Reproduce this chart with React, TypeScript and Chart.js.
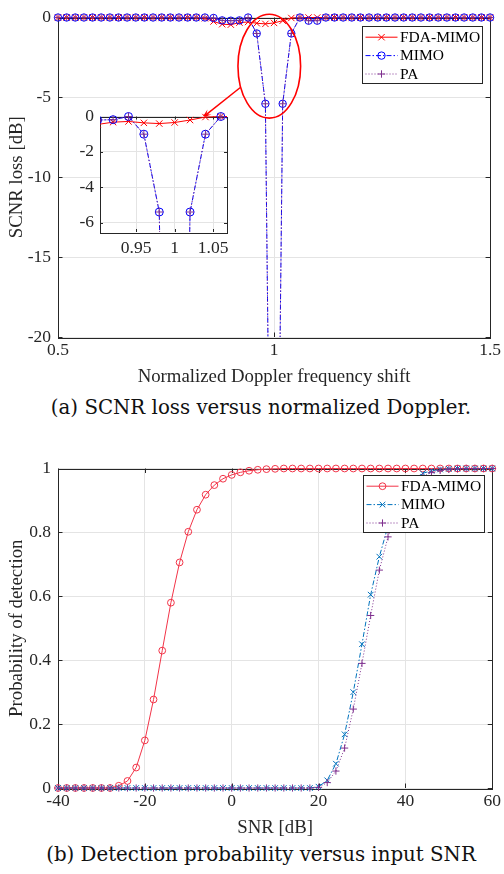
import React, { useEffect, useRef } from 'react';
import { Chart, registerables } from 'chart.js';
Chart.register(...registerables);

// ---------- Data: (a) SCNR loss vs normalized Doppler ----------
const dopplerShift = [
  0.5, 0.52, 0.54, 0.56, 0.58, 0.6, 0.62, 0.64, 0.66, 0.68,
  0.7, 0.72, 0.74, 0.76, 0.78, 0.8, 0.82, 0.84, 0.86, 0.88,
  0.9, 0.92, 0.94, 0.96, 0.98, 1.0, 1.02, 1.04, 1.06, 1.08,
  1.1, 1.12, 1.14, 1.16, 1.18, 1.2, 1.22, 1.24, 1.26, 1.28,
  1.3, 1.32, 1.34, 1.36, 1.38, 1.4, 1.42, 1.44, 1.46, 1.48, 1.5,
];
const fdaMimoLoss = [
  0, 0, 0, 0, 0, 0, 0, 0, 0, 0,
  0, 0, 0, 0, 0, 0, 0, -0.05, -0.25, -0.42,
  -0.45, -0.32, -0.28, -0.36, -0.4, -0.34, -0.2, -0.03, 0, 0,
  0, 0, 0, 0, 0, 0, 0, 0, 0, 0,
  0, 0, 0, 0, 0, 0, 0, 0, 0, 0, 0,
];
const mimoLoss = [
  0, 0, 0, 0, 0, 0, 0, 0, 0, 0,
  0, 0, 0, 0, 0, 0, 0, 0, -0.03, -0.18,
  -0.2, -0.18, 0, -1.0, -5.4, -55, -5.4, -1.0, 0, -0.2,
  -0.2, 0, 0, 0, 0, 0, 0, 0, 0, 0,
  0, 0, 0, 0, 0, 0, 0, 0, 0, 0, 0,
];
const paLoss = [
  0, 0, 0, 0, 0, 0, 0, 0, 0, 0,
  0, 0, 0, 0, 0, 0, 0, 0, -0.03, -0.18,
  -0.2, -0.18, 0, -1.0, -5.4, -55, -5.4, -1.0, 0, -0.2,
  -0.2, 0, 0, 0, 0, 0, 0, 0, 0, 0,
  0, 0, 0, 0, 0, 0, 0, 0, 0, 0, 0,
];
const aXTicks = [0.5, 1, 1.5];
const aYTicks = [-20, -15, -10, -5, 0];
const insetXTicks = [0.95, 1, 1.05];
const insetYTicks = [-6, -4, -2, 0];

// ---------- Data: (b) detection probability vs SNR ----------
const snrDb = [
  -40, -38, -36, -34, -32, -30, -28, -26, -24, -22,
  -20, -18, -16, -14, -12, -10, -8, -6, -4, -2,
  0, 2, 4, 6, 8, 10, 12, 14, 16, 18,
  20, 22, 24, 26, 28, 30, 32, 34, 36, 38,
  40, 42, 44, 46, 48, 50, 52, 54, 56, 58, 60,
];
const fdaMimoPd = [
  0, 0, 0, 0, 0, 0, 0, 0.007, 0.022, 0.064,
  0.149, 0.277, 0.43, 0.58, 0.706, 0.802, 0.871, 0.918, 0.948, 0.968,
  0.98, 0.988, 0.993, 0.996, 0.998, 0.999, 1, 1, 1, 1,
  1, 1, 1, 1, 1, 1, 1, 1, 1, 1,
  1, 1, 1, 1, 1, 1, 1, 1, 1, 1, 1,
];
const mimoPd = [
  0, 0, 0, 0, 0, 0, 0, 0, 0, 0,
  0, 0, 0, 0, 0, 0, 0, 0, 0, 0,
  0, 0, 0, 0, 0, 0, 0, 0, 0, 0,
  0.004, 0.024, 0.076, 0.168, 0.3, 0.45, 0.605, 0.724, 0.82, 0.89,
  0.94, 0.968, 0.985, 0.993, 0.997, 0.999, 1, 1, 1, 1, 1,
];
const paPd = [
  0, 0, 0, 0, 0, 0, 0, 0, 0, 0,
  0, 0, 0, 0, 0, 0, 0, 0, 0, 0,
  0, 0, 0, 0, 0, 0, 0, 0, 0, 0,
  0.002, 0.017, 0.053, 0.125, 0.247, 0.39, 0.54, 0.682, 0.786, 0.865,
  0.92, 0.955, 0.975, 0.987, 0.994, 0.997, 0.999, 1, 1, 1, 1,
];
const bXTicks = [-40, -20, 0, 20, 40, 60];
const bYTicks = [0, 0.2, 0.4, 0.6, 0.8, 1];

const seriesLabels = ['FDA-MIMO', 'MIMO', 'PA'];

// callout (in data units of chart a)
const calloutEllipse = { cx: 0.989, cy: -3.05, rx: 0.0725, ry: 3.25 };
const calloutArrow = { fromX: 0.922, fromY: -4.38, toX: 0.8335, toY: -6.28 };

// ---------- Styling ----------
const FONT = "'Liberation Serif', 'Times New Roman', serif";
const TEXT = '#262626';
const GRID = '#e4e4e4';
const TICK_FONT = { family: FONT, size: 17.5 };
const TITLE_FONT = { family: FONT, size: 18.8 };

type Marker = 'crossRot' | 'circle' | 'cross';
interface LegendItem { label: string; color: string; dash: number[]; marker: Marker; r: number; }

function drawMarker(ctx: CanvasRenderingContext2D, kind: Marker, x: number, y: number, r: number) {
  ctx.beginPath();
  if (kind === 'circle') {
    ctx.arc(x, y, r, 0, Math.PI * 2);
  } else if (kind === 'cross') {
    ctx.moveTo(x - r, y); ctx.lineTo(x + r, y);
    ctx.moveTo(x, y - r); ctx.lineTo(x, y + r);
  } else {
    ctx.moveTo(x - r, y - r); ctx.lineTo(x + r, y + r);
    ctx.moveTo(x - r, y + r); ctx.lineTo(x + r, y - r);
  }
  ctx.stroke();
}

const axesBoxPlugin = {
  id: 'axesBox',
  beforeDatasetsDraw(chart: any, _a: any, opts: any) {
    const { ctx, chartArea } = chart;
    const { left, top, right, bottom } = chartArea;
    const len = opts.tickLen ?? 4;
    ctx.save();
    ctx.strokeStyle = TEXT;
    ctx.lineWidth = 1;
    ctx.setLineDash([]);
    ctx.beginPath();
    chart.scales.x.ticks.forEach((t: any) => {
      const px = Math.round(chart.scales.x.getPixelForValue(t.value)) + 0.5;
      ctx.moveTo(px, bottom); ctx.lineTo(px, bottom - len);
      ctx.moveTo(px, top); ctx.lineTo(px, top + len);
    });
    chart.scales.y.ticks.forEach((t: any) => {
      const py = Math.round(chart.scales.y.getPixelForValue(t.value)) + 0.5;
      ctx.moveTo(left, py); ctx.lineTo(left + len, py);
      ctx.moveTo(right, py); ctx.lineTo(right - len, py);
    });
    ctx.stroke();
    ctx.strokeRect(Math.round(left) + 0.5, Math.round(top) + 0.5, Math.round(right - left), Math.round(bottom - top));
    ctx.restore();
  },
};

const boxLegendPlugin = {
  id: 'boxLegend',
  afterDraw(chart: any, _a: any, opts: any) {
    const { ctx, chartArea } = chart;
    const items: LegendItem[] = opts.items || [];
    const w = opts.width, h = opts.height;
    const x0 = Math.round(chartArea.right - opts.offsetRight - w) + 0.5;
    const y0 = Math.round(chartArea.top + opts.offsetTop) + 0.5;
    ctx.save();
    ctx.fillStyle = '#ffffff';
    ctx.fillRect(x0, y0, w, h);
    ctx.strokeStyle = TEXT;
    ctx.lineWidth = 1;
    ctx.setLineDash([]);
    ctx.strokeRect(x0, y0, w, h);
    items.forEach((it, i) => {
      const cy = y0 + opts.firstRow + i * opts.rowGap;
      ctx.strokeStyle = it.color;
      ctx.lineWidth = 1;
      ctx.setLineDash(it.dash);
      ctx.beginPath();
      ctx.moveTo(x0 + 3, cy); ctx.lineTo(x0 + 35, cy);
      ctx.stroke();
      ctx.setLineDash([]);
      drawMarker(ctx, it.marker, x0 + 19, cy, it.r);
      ctx.fillStyle = '#000000';
      ctx.font = `15.5px ${FONT}`;
      ctx.textBaseline = 'middle';
      ctx.textAlign = 'left';
      ctx.fillText(it.label, x0 + 37.5, cy + 0.5);
    });
    ctx.restore();
  },
};

const calloutPlugin = {
  id: 'callout',
  afterDraw(chart: any) {
    const { ctx } = chart;
    const xs = chart.scales.x, ys = chart.scales.y;
    const cx = xs.getPixelForValue(calloutEllipse.cx);
    const cy = ys.getPixelForValue(calloutEllipse.cy);
    const rx = xs.getPixelForValue(calloutEllipse.cx + calloutEllipse.rx) - cx;
    const ry = ys.getPixelForValue(calloutEllipse.cy - calloutEllipse.ry) - cy;
    ctx.save();
    ctx.strokeStyle = '#ff0000';
    ctx.lineWidth = 1.6;
    ctx.setLineDash([]);
    ctx.beginPath();
    ctx.ellipse(cx, cy, Math.abs(rx), Math.abs(ry), 0, 0, Math.PI * 2);
    ctx.stroke();
    const fx = xs.getPixelForValue(calloutArrow.fromX), fy = ys.getPixelForValue(calloutArrow.fromY);
    const tx = xs.getPixelForValue(calloutArrow.toX), ty = ys.getPixelForValue(calloutArrow.toY);
    const ang = Math.atan2(ty - fy, tx - fx);
    ctx.lineWidth = 1.5;
    ctx.beginPath();
    ctx.moveTo(fx, fy); ctx.lineTo(tx, ty);
    ctx.stroke();
    const hl = 10, ha = 0.33;
    ctx.fillStyle = '#ff0000';
    ctx.beginPath();
    ctx.moveTo(tx, ty);
    ctx.lineTo(tx - hl * Math.cos(ang - ha), ty - hl * Math.sin(ang - ha));
    ctx.lineTo(tx - hl * 0.55 * Math.cos(ang), ty - hl * 0.55 * Math.sin(ang));
    ctx.lineTo(tx - hl * Math.cos(ang + ha), ty - hl * Math.sin(ang + ha));
    ctx.closePath();
    ctx.fill();
    ctx.restore();
  },
};

const whiteAreaPlugin = {
  id: 'whiteArea',
  beforeDraw(chart: any) {
    const { ctx, chartArea } = chart;
    ctx.save();
    ctx.fillStyle = '#ffffff';
    ctx.fillRect(chartArea.left, chartArea.top, chartArea.right - chartArea.left, chartArea.bottom - chartArea.top);
    ctx.restore();
  },
};

const fmt = (v: any) => String(Number(Number(v).toFixed(4)));

function setTicks(values: number[]) {
  return (s: any) => { s.ticks = values.map((v) => ({ value: v })); };
}

function pairs(xs: number[], ys: number[]) {
  return xs.map((x, i) => ({ x, y: ys[i] }));
}

const RED_A = '#ff0000', BLUE_A = '#0000ff', PURPLE = '#7e2f8e';
const RED_B = '#f23448', BLUE_B = '#0072bd';
const DASHDOT = [5, 2, 1.5, 2];
const DOTTED = [1, 2];

function datasetsA(clip: any, small: boolean) {
  return [
    {
      label: seriesLabels[0], data: pairs(dopplerShift, fdaMimoLoss),
      borderColor: RED_A, borderWidth: 1, pointStyle: 'crossRot', pointRadius: 4.5,
      pointBorderColor: RED_A, pointBorderWidth: 1, pointBackgroundColor: 'transparent', clip, order: 2,
    },
    {
      label: seriesLabels[1], data: pairs(dopplerShift, mimoLoss),
      borderColor: BLUE_A, borderWidth: 1, borderDash: DASHDOT, pointStyle: 'circle', pointRadius: small ? 4 : 3.7,
      pointBorderColor: BLUE_A, pointBorderWidth: 1, pointBackgroundColor: 'transparent', clip, order: 1,
    },
    {
      label: seriesLabels[2], data: pairs(dopplerShift, paLoss),
      borderColor: PURPLE, borderWidth: 1, borderDash: DOTTED, pointStyle: 'cross', pointRadius: small ? 4 : 3.7,
      pointBorderColor: PURPLE, pointBorderWidth: 1, pointBackgroundColor: 'transparent', clip, order: 0,
    },
  ];
}

export default function App() {
  const refA = useRef<HTMLCanvasElement>(null);
  const refInset = useRef<HTMLCanvasElement>(null);
  const refB = useRef<HTMLCanvasElement>(null);

  useEffect(() => {
    const charts: Chart[] = [];
    const gridOpts = { color: GRID, drawTicks: false, lineWidth: 1 };

    // ---- chart (a)
    charts.push(new Chart(refA.current!, {
      type: 'line',
      data: { datasets: datasetsA({ left: 8, top: 8, right: 8, bottom: 0 }, false) as any },
      options: {
        responsive: false, animation: false, events: [],
        layout: { padding: { top: 16, right: 11, left: 0, bottom: 0 } },
        plugins: {
          legend: { display: false }, tooltip: { enabled: false },
          axesBox: { tickLen: 4.5 },
          boxLegend: {
            items: [
              { label: seriesLabels[0], color: RED_A, dash: [], marker: 'crossRot', r: 3.2 },
              { label: seriesLabels[1], color: BLUE_A, dash: DASHDOT, marker: 'circle', r: 3.7 },
              { label: seriesLabels[2], color: PURPLE, dash: DOTTED, marker: 'cross', r: 3.7 },
            ],
            width: 120, height: 57, offsetRight: 8.5, offsetTop: 8.3, firstRow: 10.7, rowGap: 18.4,
          },
        } as any,
        scales: {
          x: {
            type: 'linear', min: 0.5, max: 1.5,
            afterBuildTicks: setTicks(aXTicks),
            afterFit: (s: any) => { s.height = 53; },
            grid: gridOpts, border: { display: false },
            ticks: { font: TICK_FONT, color: TEXT, padding: 3, maxRotation: 0, autoSkip: false, callback: fmt },
            title: { display: true, text: 'Normalized Doppler frequency shift', font: TITLE_FONT, color: TEXT, padding: { top: 0, bottom: 2 } },
          },
          y: {
            type: 'linear', min: -20, max: 0,
            afterBuildTicks: setTicks(aYTicks),
            afterFit: (s: any) => { s.width = 58; },
            grid: gridOpts, border: { display: false },
            ticks: { font: TICK_FONT, color: TEXT, padding: 7, callback: fmt },
            title: { display: true, text: 'SCNR loss [dB]', font: TITLE_FONT, color: TEXT, padding: { top: 6, bottom: 0 } },
          },
        },
      },
      plugins: [axesBoxPlugin, calloutPlugin, boxLegendPlugin] as any,
    }));

    // ---- inset
    charts.push(new Chart(refInset.current!, {
      type: 'line',
      data: { datasets: datasetsA({ left: 0, top: 8, right: 0, bottom: 0 }, true) as any },
      options: {
        responsive: false, animation: false, events: [],
        layout: { padding: { top: 16, right: 13, left: 0, bottom: 0 } },
        plugins: { legend: { display: false }, tooltip: { enabled: false }, axesBox: { tickLen: 3 } } as any,
        scales: {
          x: {
            type: 'linear', min: 0.903, max: 1.068,
            afterBuildTicks: setTicks(insetXTicks),
            afterFit: (s: any) => { s.height = 28; },
            grid: gridOpts, border: { display: false },
            ticks: { font: TICK_FONT, color: TEXT, padding: 6, maxRotation: 0, autoSkip: false, callback: fmt },
          },
          y: {
            type: 'linear', min: -6.53, max: 0,
            afterBuildTicks: setTicks(insetYTicks),
            afterFit: (s: any) => { s.width = 40; },
            grid: gridOpts, border: { display: false },
            ticks: { font: TICK_FONT, color: TEXT, padding: 6, callback: fmt },
          },
        },
      },
      plugins: [whiteAreaPlugin, axesBoxPlugin] as any,
    }));

    // ---- chart (b)
    const clipB = { left: 8, top: 8, right: 8, bottom: 8 };
    charts.push(new Chart(refB.current!, {
      type: 'line',
      data: {
        datasets: [
          {
            label: seriesLabels[0], data: pairs(snrDb, fdaMimoPd),
            borderColor: RED_B, borderWidth: 1, pointStyle: 'circle', pointRadius: 3.4,
            pointBorderColor: RED_B, pointBorderWidth: 1, pointBackgroundColor: 'transparent', clip: clipB, order: 2,
          },
          {
            label: seriesLabels[1], data: pairs(snrDb, mimoPd),
            borderColor: BLUE_B, borderWidth: 1, borderDash: DASHDOT, pointStyle: 'crossRot', pointRadius: 4,
            pointBorderColor: BLUE_B, pointBorderWidth: 1, pointBackgroundColor: 'transparent', clip: clipB, order: 1,
          },
          {
            label: seriesLabels[2], data: pairs(snrDb, paPd),
            borderColor: PURPLE, borderWidth: 1, borderDash: DOTTED, pointStyle: 'cross', pointRadius: 3.6,
            pointBorderColor: PURPLE, pointBorderWidth: 1, pointBackgroundColor: 'transparent', clip: clipB, order: 0,
          },
        ] as any,
      },
      options: {
        responsive: false, animation: false, events: [],
        layout: { padding: { top: 16, right: 11, left: 0, bottom: 0 } },
        plugins: {
          legend: { display: false }, tooltip: { enabled: false },
          axesBox: { tickLen: 4.5 },
          boxLegend: {
            items: [
              { label: seriesLabels[0], color: RED_B, dash: [], marker: 'circle', r: 3.4 },
              { label: seriesLabels[1], color: BLUE_B, dash: DASHDOT, marker: 'crossRot', r: 2.8 },
              { label: seriesLabels[2], color: PURPLE, dash: DOTTED, marker: 'cross', r: 3.6 },
            ],
            width: 121, height: 57, offsetRight: 8, offsetTop: 6.5, firstRow: 10.7, rowGap: 18.4,
          },
        } as any,
        scales: {
          x: {
            type: 'linear', min: -40, max: 60,
            afterBuildTicks: setTicks(bXTicks),
            afterFit: (s: any) => { s.height = 53; },
            grid: gridOpts, border: { display: false },
            ticks: { font: TICK_FONT, color: TEXT, padding: 3, maxRotation: 0, autoSkip: false, callback: fmt },
            title: { display: true, text: 'SNR [dB]', font: TITLE_FONT, color: TEXT, padding: { top: 0, bottom: 2 } },
          },
          y: {
            type: 'linear', min: 0, max: 1,
            afterBuildTicks: setTicks(bYTicks),
            afterFit: (s: any) => { s.width = 58; },
            grid: gridOpts, border: { display: false },
            ticks: { font: TICK_FONT, color: TEXT, padding: 7, callback: fmt },
            title: { display: true, text: 'Probability of detection', font: TITLE_FONT, color: TEXT, padding: { top: 6, bottom: 0 } },
          },
        },
      },
      plugins: [axesBoxPlugin, boxLegendPlugin] as any,
    }));

    return () => { charts.forEach((c) => c.destroy()); };
  }, []);

  const captionStyle: React.CSSProperties = {
    position: 'absolute', left: 261, transform: 'translateX(-50%)', whiteSpace: 'nowrap',
    fontFamily: "'DejaVu Serif', serif", fontSize: 19.8, lineHeight: '20px', color: '#111',
  };

  return (
    <div style={{ position: 'fixed', left: 0, top: 0, width: 504, height: 874, background: '#fff', overflow: 'hidden' }}>
      <canvas ref={refA} width={504} height={390} style={{ position: 'absolute', left: 0, top: 0 }} />
      <canvas ref={refInset} width={180} height={160} style={{ position: 'absolute', left: 60, top: 100 }} />
      <div style={{ ...captionStyle, top: 398 }}>(a) SCNR loss versus normalized Doppler.</div>
      <canvas ref={refB} width={504} height={390} style={{ position: 'absolute', left: 0, top: 451 }} />
      <div style={{ ...captionStyle, top: 845 }}>(b) Detection probability versus input SNR</div>
    </div>
  );
}
